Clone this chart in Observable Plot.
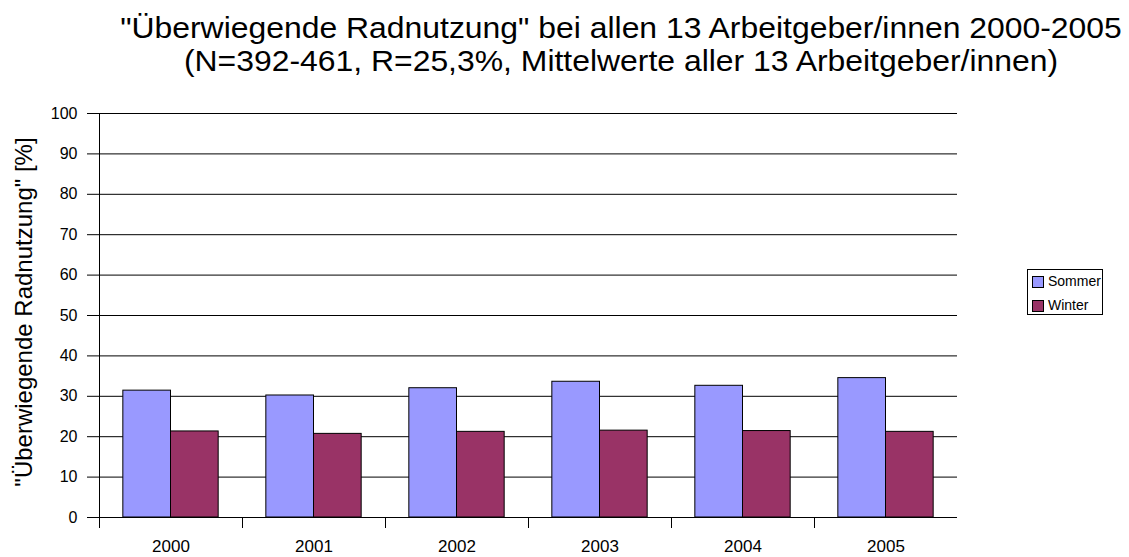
<!DOCTYPE html>
<html>
<head>
<meta charset="utf-8">
<script src="https://cdn.jsdelivr.net/npm/d3@7"></script>
<script src="https://cdn.jsdelivr.net/npm/@observablehq/plot@0.6"></script>
<style>
  html, body { margin: 0; padding: 0; background: #fff; }
  body { width: 1129px; height: 557px; position: relative; overflow: hidden; font-family: "Liberation Sans", Arial, sans-serif; }
  #title { position: absolute; left: 121px; width: 1000px; top: 12px; text-align: center; font-size: 29px; line-height: 33px; color: #000; transform: scaleX(1.1); transform-origin: 500px 0; white-space: nowrap; }
  #ylabel { position: absolute; left: 24px; top: 312px; transform: translate(-50%, -50%) rotate(-90deg); white-space: nowrap; font-size: 24px; color: #000; }
  #legend { position: absolute; left: 1027px; top: 269px; width: 74px; height: 44px; border: 1px solid #000; font-size: 14px; }
  .item { position: absolute; left: 4px; height: 14px; line-height: 14px; }
  .sw { position: absolute; left: 0; top: 1px; width: 10px; height: 10px; border: 1px solid #000; }
  .lab { position: absolute; left: 16px; top: -1px; white-space: nowrap; }
  #chart { position: absolute; left: 0; top: 0; }
</style>
</head>
<body>
<div id="chart"></div>
<div id="title">"Überwiegende Radnutzung" bei allen 13 Arbeitgeber/innen 2000-2005<br>(N=392-461, R=25,3%, Mittelwerte aller 13 Arbeitgeber/innen)</div>
<div id="ylabel">"Überwiegende Radnutzung" [%]</div>
<div id="legend"></div>
<script>
const years = ["2000", "2001", "2002", "2003", "2004", "2005"];
const series = ["Sommer", "Winter"];
const sommer = [31.4, 30.2, 32.0, 33.6, 32.6, 34.5];
const winter = [21.3, 20.7, 21.2, 21.5, 21.4, 21.2];
const colors = ["#9999FF", "#993366"];
const yTicks = [0, 10, 20, 30, 40, 50, 60, 70, 80, 90, 100];

const W = 1129, H = 557;
const mL = 99, mR = 172, mT = 113, mB = 40;
const band = (W - mL - mR) / years.length;

const rows = [];
years.forEach((y, i) => {
  rows.push({year: y, series: series[0], value: sommer[i]});
  rows.push({year: y, series: series[1], value: winter[i]});
});

const chart = Plot.plot({
  width: W, height: H,
  marginLeft: mL, marginRight: mR, marginTop: mT, marginBottom: mB,
  style: {fontFamily: "'Liberation Sans', Arial, sans-serif", color: "#000", background: "transparent"},
  x: {type: "band", domain: years, padding: 0, label: null},
  y: {domain: [0, 100], label: null},
  color: {domain: series, range: colors},
  marks: [
    Plot.gridY(yTicks, {stroke: "#000", strokeOpacity: 1, strokeWidth: 1}),
    Plot.barY(rows.filter(d => d.series === series[0]), {
      x: "year", y: "value", fill: "series", stroke: "#000", strokeWidth: 1,
      insetLeft: band / 6, insetRight: band / 2
    }),
    Plot.barY(rows.filter(d => d.series === series[1]), {
      x: "year", y: "value", fill: "series", stroke: "#000", strokeWidth: 1,
      insetLeft: band / 2, insetRight: band / 6
    }),
    Plot.ruleY([0], {stroke: "#000"}),
    Plot.ruleX([years[0]], {dx: -band / 2, stroke: "#000"}),
    Plot.axisY({ticks: yTicks, tickSize: 12, tickPadding: 10, fontSize: 16, label: null}),
    Plot.axisX(years, {tickSize: 11, fill: "none", tickFormat: () => "", dx: -band / 2, label: null}),
    Plot.axisX({tickSize: 0, tickPadding: 22, fontSize: 17, label: null})
  ]
});
document.getElementById("chart").appendChild(chart);

const legend = document.getElementById("legend");
series.forEach((s, i) => {
  const it = document.createElement("div");
  it.className = "item";
  it.style.top = (5 + i * 24) + "px";
  it.innerHTML = `<span class="sw" style="background:${colors[i]}"></span><span class="lab">${s}</span>`;
  legend.appendChild(it);
});
</script>
</body>
</html>
